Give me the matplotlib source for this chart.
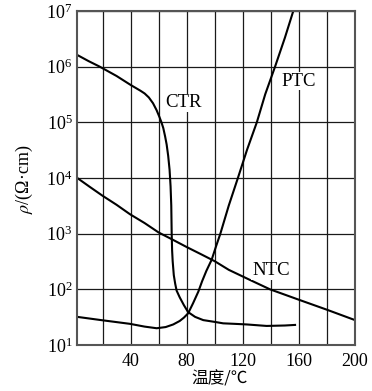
import numpy as np
import matplotlib
matplotlib.use("Agg")
import matplotlib.pyplot as plt
from matplotlib.ticker import MultipleLocator, LogLocator, NullFormatter

plt.rcParams['font.family'] = ['Liberation Serif', 'Noto Sans CJK SC', 'DejaVu Sans']
plt.rcParams['mathtext.fontset'] = 'stix'

# ---- data (temperature in degC, resistivity in Ohm*cm) ----
ctr_t = [2, 10, 18, 30, 40, 47, 50, 53, 56, 58.5, 60.5, 62, 63.3, 64.6, 65.7, 66.8, 67.8,
         68.5, 69, 69.3, 69.6, 70, 70.8, 71.8, 72.8, 75, 78, 81, 86, 91.8, 100, 106,
         114, 122.8, 137, 150, 158]
ctr_rho = [1.62e6, 1.26e6, 1.0e6, 6.8e5, 4.7e5, 3.7e5, 3.3e5, 2.8e5, 2.2e5, 1.66e5,
           1.26e5, 1.0e5, 7.9e4, 5.6e4, 4.0e4, 2.5e4, 1.4e4, 7.1e3, 3.2e3, 1.0e3,
           5.0e2, 3.2e2, 1.8e2, 1.26e2, 95, 72, 52, 39, 32, 28, 26, 24.5, 24, 23.4,
           22, 22.4, 23]

ptc_t = [2, 19, 39.5, 50, 58.6, 65, 70.4, 75, 78, 81, 84.5, 88.3, 91, 94, 97.8, 101,
         104, 110, 116.5, 123, 130, 136, 143, 150, 156]
ptc_rho = [32, 28, 24, 21.4, 20, 21, 23.4, 27, 31, 37, 56, 91, 140, 214, 340, 600,
           1.0e3, 3.2e3, 1.0e4, 3.2e4, 1.0e5, 3.2e5, 1.0e6, 3.3e6, 1.0e7]

ntc_t = [2, 11, 20, 30, 39.5, 50, 60, 70, 80, 90, 100, 110, 125, 139.4, 160, 180, 200]
ntc_rho = [1.0e4, 6.9e3, 4.8e3, 3.3e3, 2.24e3, 1.55e3, 1.05e3, 7.8e2, 5.75e2, 4.3e2,
           3.2e2, 2.24e2, 1.48e2, 1.0e2, 65, 43, 28]

labels = ["CTR", "PTC", "NTC"]
label_pos_t = [77.4, 160.1, 140]
label_pos_rho = [2.24e5, 5.5e5, 2.14e2]

x_major = [40, 80, 120, 160, 200]

# ---- figure ----
fig = plt.figure(figsize=(3.72, 3.91), dpi=100)
ax = fig.add_axes([77.3/372, 1-345/391, (355-77.3)/372, (345-11)/391])

for t, r in [(ctr_t, ctr_rho), (ptc_t, ptc_rho), (ntc_t, ntc_rho)]:
    ax.plot(t, r, color='black', lw=1.5, solid_capstyle='butt',
            solid_joinstyle='round', zorder=3)

for s, t, r in zip(labels, label_pos_t, label_pos_rho):
    ax.text(t, r, s, ha='center', va='center', fontsize=13.5,
            bbox=dict(facecolor='white', edgecolor='none', pad=0.5), zorder=4)

ax.set_yscale('log')
ax.set_xlim(2, 200)
ax.set_ylim(10, 1e7)
ax.set_xticks(x_major)
ax.xaxis.set_minor_locator(MultipleLocator(20))
ax.yaxis.set_major_locator(LogLocator(base=10, numticks=10))
ax.yaxis.set_minor_locator(LogLocator(base=10, subs=[], numticks=10))
ax.yaxis.set_minor_formatter(NullFormatter())
ax.grid(True, which='both', axis='x', color='#1a1a1a', lw=0.9)
ax.grid(True, which='major', axis='y', color='#1a1a1a', lw=0.9)
ax.tick_params(axis='both', which='both', length=0, labelsize=13)
ax.tick_params(axis='x', pad=5.5)
ax.tick_params(axis='y', pad=3.5)
for sp in ax.spines.values():
    sp.set_color('#555555')
    sp.set_linewidth(1.5)
    sp.set_zorder(5)

ax.set_xlabel("温度/℃", fontsize=12, family=['Noto Sans CJK SC', 'DejaVu Sans'])
ax.xaxis.label.set_va('center')
ax.xaxis.set_label_coords((220-77.3)/277.7, (345-379)/334)
ax.set_ylabel(r"$\rho$/(Ω·cm)", fontsize=13)
ax.yaxis.label.set_va('center')
ax.yaxis.label.set_ha('center')
ax.yaxis.set_label_coords((24-77.3)/277.7, (345-179)/334)

fig.savefig("out.png", dpi=100)
